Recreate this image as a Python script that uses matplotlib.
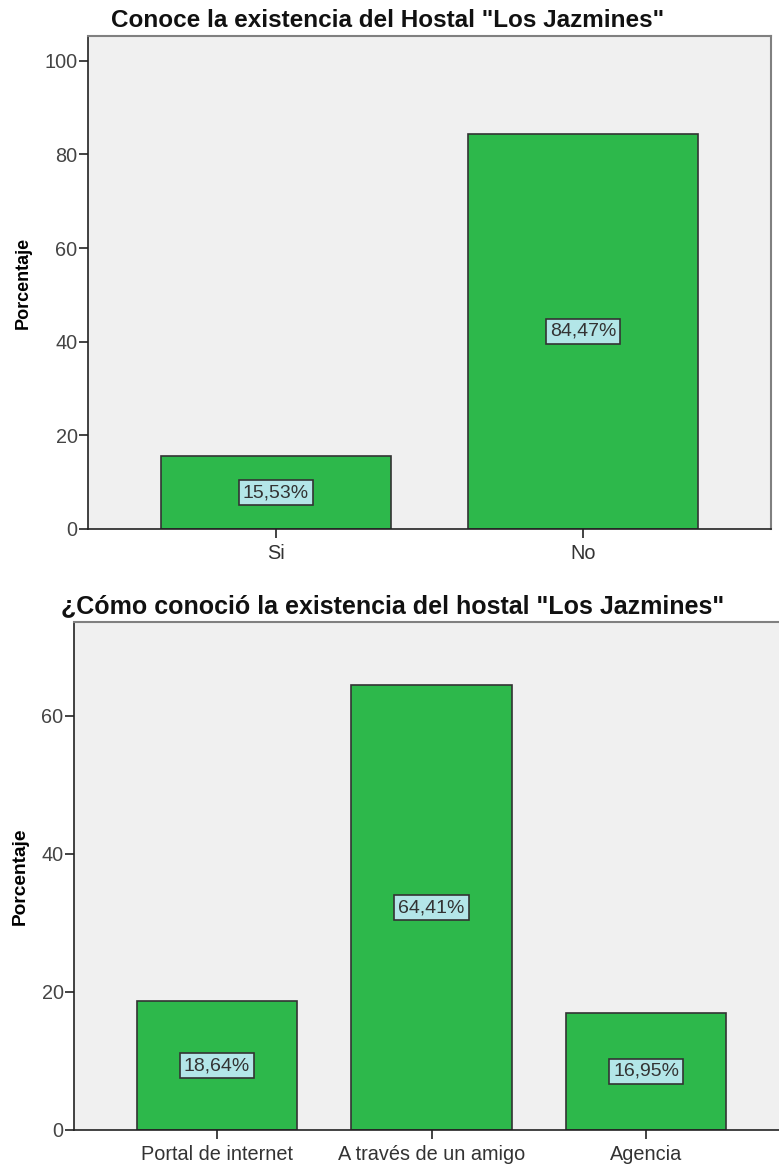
import matplotlib.pyplot as plt

plt.rcParams['font.family'] = ['Liberation Sans', 'DejaVu Sans']

# Chart 1: knows the hostal
conoce_cats = ['Si', 'No']
conoce_pct = [15.53, 84.47]

# Chart 2: how they found out
medio_cats = ['Portal de internet', 'A través de un amigo', 'Agencia']
medio_pct = [18.64, 64.41, 16.95]

BAR = '#2db84b'
BG = '#f0f0f0'
LBL_BG = '#b3e6e8'


def draw(ax, cats, vals, title, ylim, yticks, xlim, title_x, title_y, title_size, ylab_size):
    ax.set_facecolor(BG)
    x = list(range(len(cats)))
    ax.bar(x, vals, width=0.75, color=BAR, edgecolor='#333333', linewidth=1.2, zorder=2)
    for xi, v in zip(x, vals):
        ax.text(xi, v / 2, f'{v:.2f}%'.replace('.', ','), ha='center', va='center',
                fontsize=14, color='#333333', zorder=3,
                bbox=dict(boxstyle='square,pad=0.2', fc=LBL_BG, ec='#333333', lw=1.2))
    ax.set_xlim(*xlim)
    ax.set_ylim(*ylim)
    ax.set_xticks(x)
    ax.set_xticklabels(cats, fontsize=14.3, color='#333333')
    ax.set_yticks(yticks)
    ax.tick_params(axis='y', labelsize=14.3, labelcolor='#444444', length=6.5, width=1.2,
                   pad=1, color='#222222')
    ax.tick_params(axis='x', length=6.5, width=1.2, pad=4, color='#222222')
    for s in ['left', 'bottom']:
        ax.spines[s].set_color('#222222')
        ax.spines[s].set_linewidth(1.2)
    for s in ['top', 'right']:
        ax.spines[s].set_color('#808080')
        ax.spines[s].set_linewidth(1.5)
    ax.set_ylabel('Porcentaje', fontsize=ylab_size, fontweight='bold', labelpad=9)
    ax.text(title_x, title_y, title, transform=ax.transAxes, ha='center', va='baseline',
            fontsize=title_size, fontweight='bold', color='#111111')


fig = plt.figure(figsize=(7.79, 11.69), dpi=100)

ax1 = fig.add_axes([0.1130, 0.5475, 0.8768, 0.4217])
draw(ax1, conoce_cats, conoce_pct, 'Conoce la existencia del Hostal "Los Jazmines"',
     (0, 105.3), [0, 20, 40, 60, 80, 100], (-0.612, 1.612), 0.4385, 1.018, 17.5, 13)

ax2 = fig.add_axes([0.0950, 0.0334, 0.9050, 0.4345])
draw(ax2, medio_cats, medio_pct, '¿Cómo conoció la existencia del hostal "Los Jazmines"',
     (0, 73.6), [0, 20, 40, 60], (-0.667, 2.62), 0.4518, 1.0177, 18, 13.8)
ax2.spines['right'].set_visible(False)

fig.savefig('out.png', dpi=100, facecolor='white')
